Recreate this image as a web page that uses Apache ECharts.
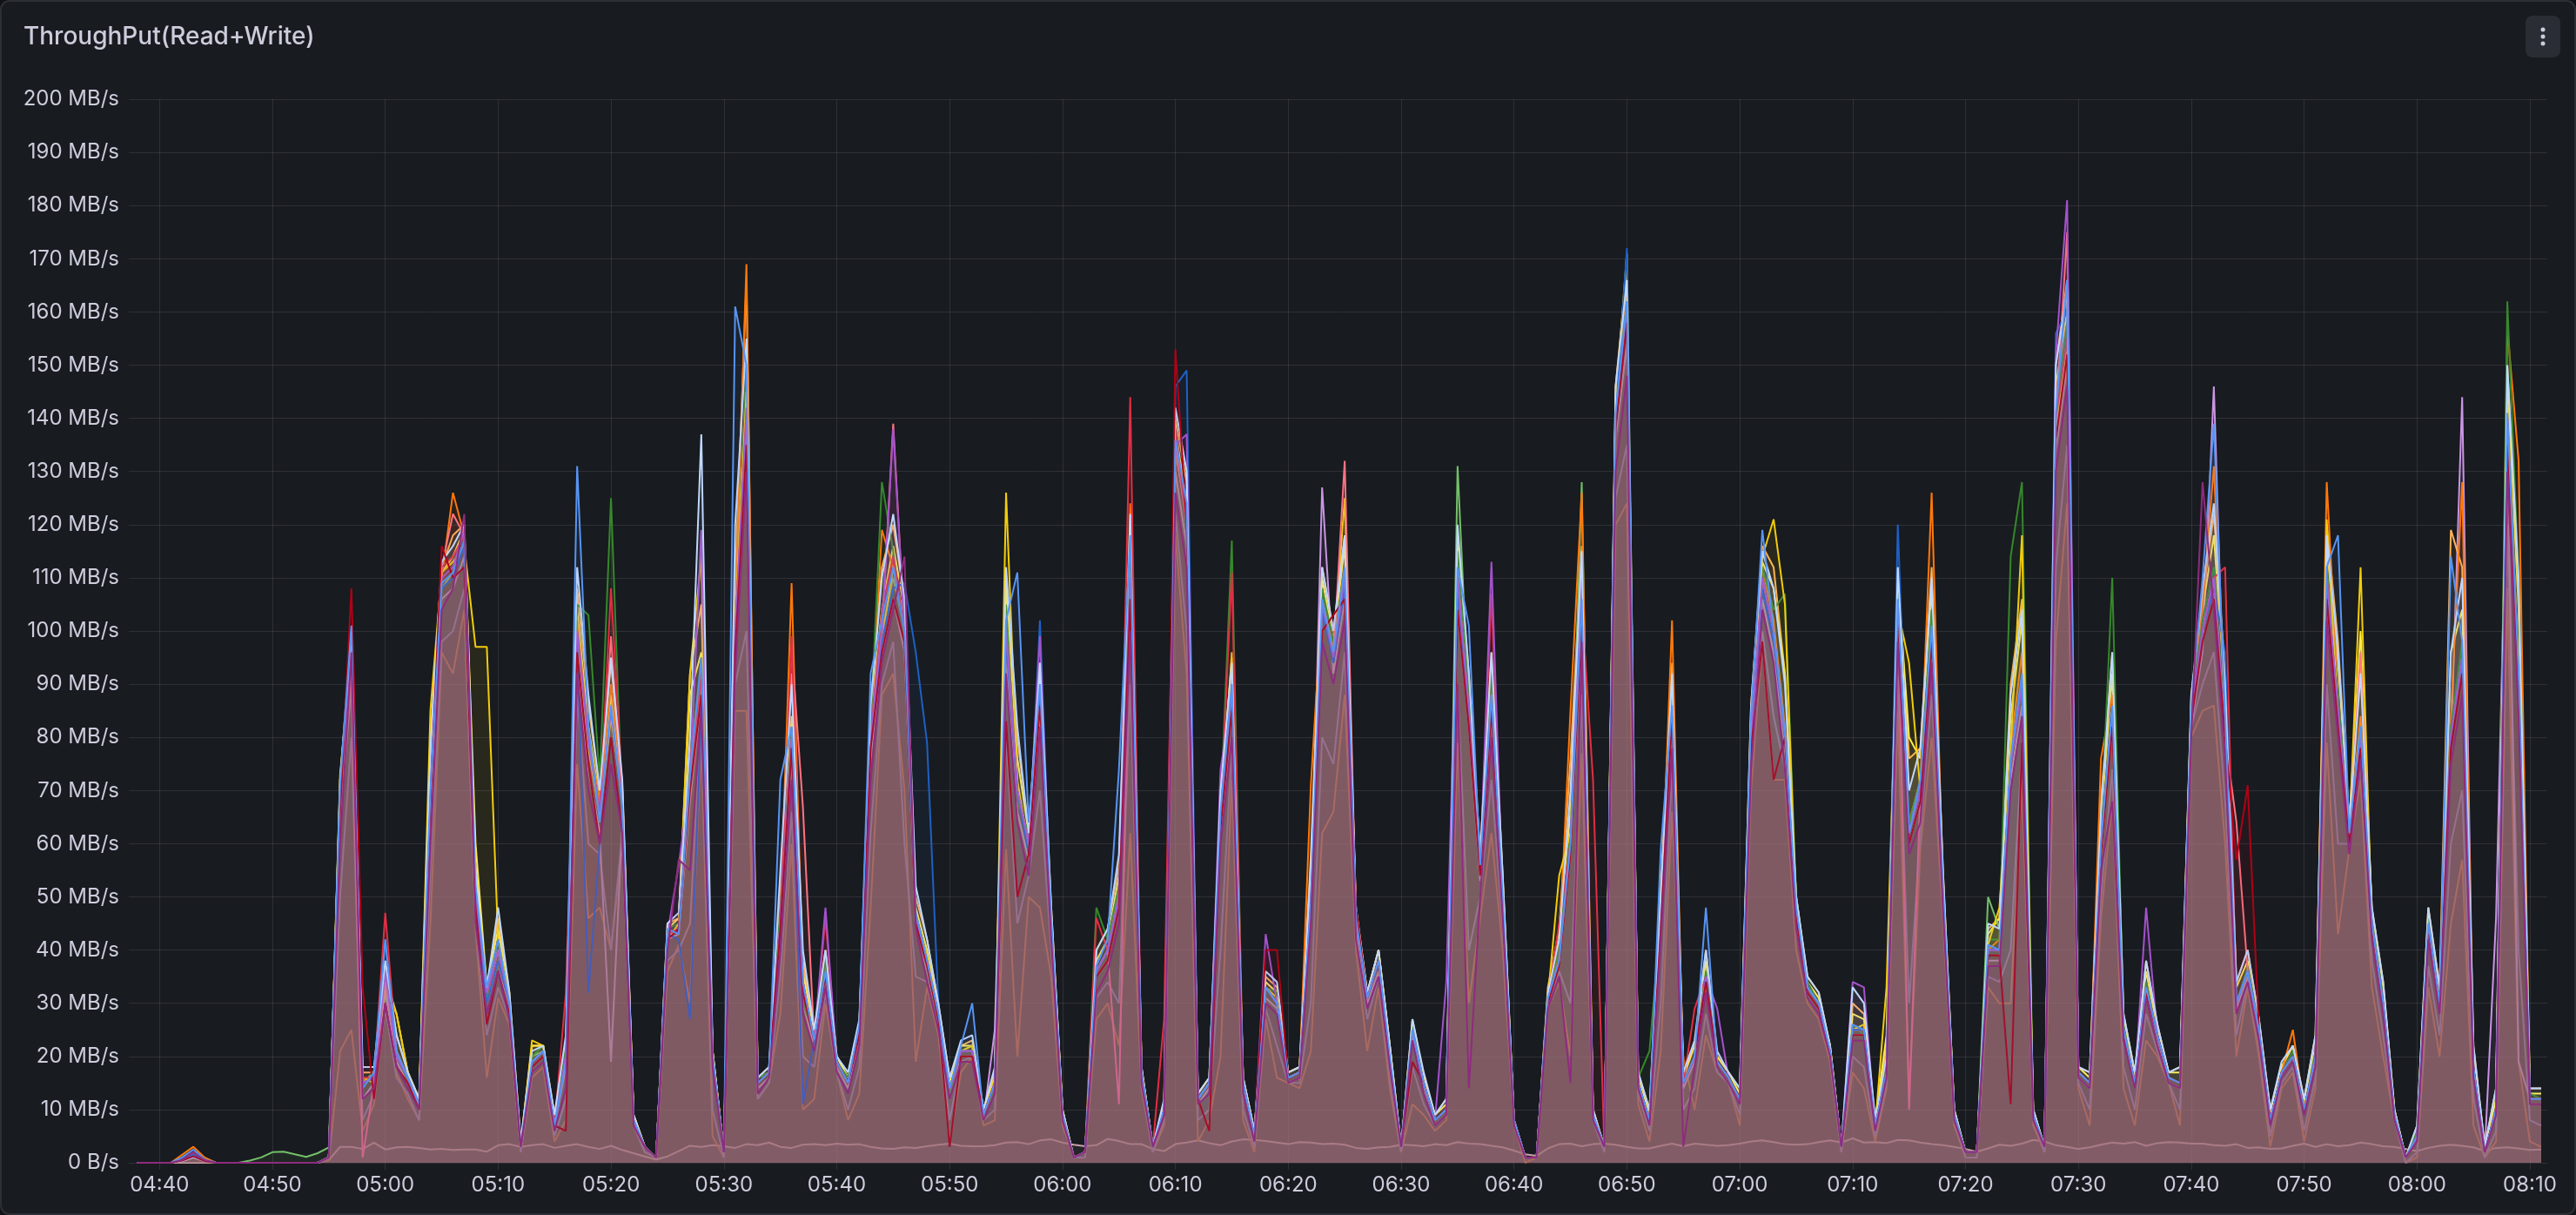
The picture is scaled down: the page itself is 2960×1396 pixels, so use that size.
<!DOCTYPE html>
<html>
<head>
<meta charset="utf-8">
<script src="https://cdn.jsdelivr.net/npm/echarts@6/dist/echarts.min.js"></script>
<style>
html, body { margin: 0; padding: 0; background: #111217; }
#main { width: 2960px; height: 1396px; }
</style>
</head>
<body>
<div id="main"></div>
<script>
// one sample per minute, first sample at 04:38
var startMinute = 4 * 60 + 38;

// MB/s per volume
var volGreen = [
  0,0,0,0,0.5,1.8,0.4,0,0,0,
  0,0,0,0,0,0,0,1,68,92,
  14,17,36,21,15,10,70,108,110,117,
  52,30,42,31,3,20,22,8,22,105,
  103,72,125,66,8,3,1,44,45,74,
  95,19,2,98,150,16,17,48,82,30,
  24,38,19,16,25,82,128,115,98,44,
  37,27,13,21,22,9,14,105,68,62,
  90,46,9,1,2,48,42,52,118,17,
  3,9,138,118,12,15,66,117,15,4,
  33,32,16,17,52,108,98,112,47,31,
  38,20,3,26,15,8,10,115,88,56,
  92,52,8,1,1,32,40,62,108,9,
  3,142,162,16,21,46,88,15,20,36,
  19,16,12,82,112,104,107,50,34,30,
  21,3,26,24,7,18,108,64,72,104,
  53,9,2,2,42,42,114,128,9,3,
  142,158,17,15,62,110,26,15,34,24,
  16,15,86,102,112,82,30,37,26,8,
  17,21,10,21,112,88,62,82,46,31,
  9,1,6,46,31,82,98,18,2,9,
  162,110,13,12
];
var volYellow = [
  0,0,0,0,0.3,1,0.3,0,0,0,
  0,0,0,0,0,0,0,1,73,96,
  16,15,33,28,17,12,85,111,113,116,
  97,97,42,31,3,23,22,7,20,98,
  78,65,84,69,9,3,1,42,45,92,
  114,21,2,102,145,15,17,44,78,34,
  23,36,19,15,25,78,98,112,102,46,
  39,28,14,21,22,9,16,126,72,59,
  86,45,9,1,2,36,40,50,108,17,
  3,10,134,122,12,15,64,96,15,5,
  33,31,16,17,50,104,96,125,46,31,
  38,20,3,25,15,8,10,108,84,55,
  86,50,8,1,1,31,54,62,104,9,
  3,143,171,15,8,46,84,15,20,35,
  19,16,12,82,114,121,105,48,33,30,
  21,3,25,26,7,33,104,94,70,98,
  52,9,2,2,41,48,78,118,9,3,
  138,154,17,15,58,84,25,15,33,24,
  16,15,84,100,108,80,30,36,25,8,
  17,20,10,20,121,84,62,112,45,30,
  9,1,5,45,31,80,95,18,2,10,
  142,92,12,12
];
var volBlue = [
  0,0,0,0,1,2.5,0.6,0,0,0,
  0,0,0,0,0,0,0,1,71,101,
  14,17,42,21,16,11,70,109,111,117,
  52,33,42,30,3,19,21,7,19,131,
  82,64,86,67,8,3,1,44,43,73,
  95,20,2,161,150,15,17,72,82,34,
  23,36,19,15,26,92,102,112,100,47,
  38,28,14,22,30,9,15,102,111,64,
  90,46,9,1,2,37,42,74,118,17,
  3,10,136,124,12,15,66,90,15,5,
  33,30,16,17,49,106,96,112,46,31,
  38,20,3,25,15,8,10,112,101,56,
  88,50,8,1,1,31,38,60,106,9,
  3,141,162,15,8,59,86,15,20,48,
  19,16,12,84,119,100,81,48,33,30,
  21,3,26,25,7,17,106,62,72,101,
  52,9,2,2,41,40,76,92,9,3,
  141,166,17,15,60,86,25,15,33,24,
  16,15,86,110,139,84,30,36,25,8,
  17,20,10,20,112,118,62,82,45,30,
  9,1,5,45,30,114,98,18,2,10,
  141,92,12,12
];
var volOrange = [
  0,0,0,0,1.5,3,1,0,0,0,
  0,0,0,0,0,0,0,1,70,96,
  15,16,35,20,16,11,72,110,126,118,
  50,32,40,30,3,19,21,7,21,102,
  80,68,90,70,8,3,1,43,44,76,
  93,20,2,104,169,15,17,46,109,34,
  23,37,19,15,25,82,119,112,102,46,
  38,28,14,21,21,9,15,104,70,60,
  90,45,9,1,2,36,40,52,124,17,
  3,10,136,122,12,15,66,92,15,5,
  33,30,16,17,71,106,97,112,46,31,
  38,20,3,25,15,8,10,112,88,58,
  90,50,8,1,1,31,40,85,126,10,
  3,142,164,15,8,46,102,15,20,35,
  19,16,12,82,112,102,82,48,33,30,
  21,3,25,25,7,17,106,64,72,126,
  52,9,2,2,40,42,78,96,9,3,
  145,158,17,15,76,88,25,15,33,24,
  16,15,86,104,131,84,30,36,25,8,
  17,25,10,20,128,88,62,84,45,30,
  9,1,5,45,30,84,128,18,2,10,
  157,132,12,12
];
var volRed = [
  0,0,0,0,0.5,1.5,0.4,0,0,0,
  0,0,0,0,0,0,0,1,68,98,
  16,16,47,21,16,11,70,112,114,118,
  50,32,38,30,3,19,21,7,32,100,
  80,66,108,70,8,3,1,43,44,72,
  92,20,2,100,142,15,17,45,99,34,
  23,46,19,15,25,80,104,114,100,46,
  38,28,14,21,21,9,15,100,70,60,
  88,45,9,1,2,46,40,50,144,17,
  3,27,138,120,12,15,65,111,15,5,
  33,30,16,17,50,105,95,110,46,31,
  38,20,3,25,15,8,10,110,85,55,
  107,50,8,1,1,31,45,60,105,72,
  3,140,160,15,8,45,85,15,29,35,
  19,16,12,80,110,100,80,48,33,30,
  21,3,25,25,7,17,105,62,70,100,
  52,9,2,2,40,40,75,90,9,3,
  140,155,17,15,60,85,25,15,33,24,
  16,15,85,100,110,112,30,36,25,8,
  17,20,10,20,110,85,62,80,45,30,
  9,1,5,45,30,80,95,18,2,10,
  140,90,12,12
];
var volDarkBlue = [
  0,0,0,0,0.5,1.5,0.5,0,0,0,
  0,0,0,0,0,0,0,1,70,100,
  15,16,42,20,16,11,70,108,110,116,
  48,30,38,30,3,19,21,7,20,98,
  32,60,80,62,8,3,1,43,42,27,
  85,20,2,98,135,15,17,44,78,11,
  23,36,19,15,25,78,98,108,109,96,
  79,30,14,21,21,9,15,98,70,58,
  102,45,9,1,2,36,40,50,108,17,
  3,10,146,149,12,15,64,86,15,5,
  33,30,16,17,48,104,94,108,46,31,
  38,20,3,25,15,8,10,108,84,55,
  86,50,8,1,1,31,38,60,104,9,
  3,140,172,15,8,45,85,15,20,35,
  19,16,12,80,108,98,80,48,33,30,
  21,3,25,25,7,17,120,62,70,98,
  52,9,2,2,40,40,75,90,9,3,
  156,160,17,15,60,85,25,15,33,24,
  16,15,85,100,108,96,30,36,25,8,
  17,20,10,20,108,85,62,80,45,30,
  9,1,5,45,30,80,95,18,2,10,
  140,90,12,12
];
var volPurple = [
  0,0,0,0,0.5,2,0.5,0,0,0,
  0,0,0,0,0,0,0,1,69,97,
  15,16,36,20,16,11,70,110,112,119,
  50,32,40,30,3,19,21,7,20,100,
  79,66,85,68,8,3,1,43,56,72,
  119,20,2,100,140,15,17,45,80,33,
  23,48,19,15,25,80,100,138,100,46,
  38,28,14,21,21,9,15,100,70,60,
  99,45,9,1,2,36,40,50,110,17,
  3,10,135,137,12,15,74,88,15,5,
  43,30,16,17,50,105,95,110,46,31,
  38,20,3,25,15,8,34,110,85,55,
  113,50,8,1,1,31,38,60,114,9,
  3,140,160,15,8,45,85,15,20,35,
  29,16,12,80,110,100,80,48,33,30,
  21,3,34,33,7,17,105,62,70,100,
  52,9,2,2,40,40,75,90,9,3,
  152,181,17,15,60,85,25,15,48,24,
  16,15,85,100,110,80,30,36,25,8,
  17,20,10,20,110,85,62,80,45,30,
  9,1,5,45,30,80,95,18,2,10,
  140,90,12,12
];
var volDarkRed = [
  0,0,0,0,0.4,1.2,0.3,0,0,0,
  0,0,0,0,0,0,0,1,66,108,
  33,12,30,18,15,10,68,116,110,112,
  48,26,36,28,3,18,20,7,6,96,
  75,60,80,62,8,3,1,42,44,70,
  88,20,2,96,135,15,17,44,78,32,
  23,35,19,15,24,78,96,106,98,45,
  37,27,3,20,20,9,15,83,50,58,
  86,44,9,1,2,35,38,48,106,17,
  3,9,153,120,12,6,63,85,15,5,
  40,40,16,17,48,100,103,106,48,31,
  38,19,3,19,15,8,10,104,82,54,
  85,48,8,1,1,30,37,58,102,9,
  3,138,158,15,8,44,84,15,20,34,
  19,16,12,78,98,72,80,46,32,29,
  21,3,24,24,7,17,102,60,68,98,
  50,9,2,2,39,39,11,79,9,3,
  136,152,17,15,58,82,24,15,32,24,
  16,15,83,98,106,80,57,71,25,8,
  17,20,10,20,106,82,60,78,44,30,
  9,1,5,44,30,78,92,18,2,10,
  136,88,12,12
];
var volPink = [
  0,0,0,0,0.4,1.5,0.4,0,0,0,
  0,0,0,0,0,0,0,1,66,92,
  1,15,34,20,16,11,70,112,122,118,
  50,32,40,30,3,19,21,7,20,100,
  80,66,99,68,8,3,1,43,44,72,
  92,20,2,100,140,15,17,45,97,67,
  23,36,19,15,25,80,100,139,100,46,
  38,28,14,21,21,9,15,100,70,60,
  88,45,9,1,2,36,40,11,110,17,
  3,10,135,120,12,15,65,88,15,5,
  33,30,16,17,50,105,95,132,46,31,
  38,20,3,25,15,8,10,110,85,55,
  88,50,8,1,1,31,38,60,105,9,
  3,140,160,15,8,45,85,15,20,35,
  19,16,12,80,110,100,80,48,33,30,
  21,3,25,25,7,17,105,10,70,100,
  52,9,2,2,40,40,75,90,9,3,
  140,175,17,15,60,85,25,15,33,24,
  16,15,85,100,110,80,64,36,25,8,
  17,20,10,20,110,85,62,96,45,30,
  9,1,5,45,30,80,95,18,2,10,
  140,90,12,12
];
var volLightBlue = [
  0,0,0,0,0.3,1,0.3,0,0,0,
  0,0,0,0,0,0,0,1,72,100,
  18,18,38,24,17,12,78,113,116,120,
  55,33,48,32,4,21,22,9,24,112,
  88,70,95,72,9,3,1,45,47,80,
  137,21,2,120,155,16,18,55,90,40,
  25,40,20,17,27,86,110,122,106,52,
  42,30,16,23,24,10,18,112,82,62,
  94,48,10,1,2,40,44,58,122,18,
  3,12,142,130,13,16,70,94,16,6,
  36,34,17,18,56,112,100,118,48,32,
  40,22,3,27,17,9,12,120,92,58,
  96,54,8,1,1,32,42,70,115,10,
  3,146,166,17,10,50,92,17,23,40,
  21,17,14,86,115,108,90,50,35,32,
  22,3,33,30,8,20,112,70,78,110,
  55,10,2,2,45,44,88,104,10,3,
  150,164,18,17,66,96,28,17,38,26,
  17,18,88,108,124,90,34,40,27,10,
  19,22,12,24,118,96,64,92,48,34,
  10,1,7,48,33,96,110,22,3,14,
  150,110,14,14
];
var volLavender = [
  0,0,0,0,0.3,1,0.3,0,0,0,
  0,0,0,0,0,0,0,1,64,90,
  12,15,32,19,15,10,66,106,108,114,
  46,30,38,28,3,18,20,7,18,94,
  74,62,19,64,8,3,1,42,43,68,
  88,19,2,94,132,14,16,42,76,30,
  22,35,18,14,24,76,96,106,96,44,
  36,27,13,20,20,8,25,96,66,57,
  84,43,9,1,2,35,38,48,104,16,
  3,9,130,116,11,14,62,84,14,5,
  31,29,15,16,48,127,92,106,44,30,
  36,19,3,24,14,8,10,104,82,53,
  84,48,8,1,1,30,37,58,100,9,
  3,136,154,14,8,43,82,14,19,34,
  18,15,11,78,106,96,78,46,32,29,
  20,3,24,24,7,16,100,60,68,96,
  50,9,2,2,38,38,72,86,9,3,
  134,150,16,14,58,82,24,14,32,23,
  15,14,82,96,146,78,29,35,24,8,
  16,19,10,19,106,82,60,78,44,29,
  9,1,5,44,29,78,144,17,2,46,
  136,19,12,12
];
var volLightGreen = [
  0,0,0,0,0.3,1,0.3,0,0,0,
  0.4,1,2,2.1,1.6,1.1,1.8,2.9,68,94,
  15,17,33,21,16,11,72,108,111,117,
  50,32,40,31,3,20,21,7,20,100,
  80,66,84,68,8,3,1,43,44,72,
  92,20,2,100,140,15,17,45,80,33,
  23,36,19,15,25,80,100,110,100,46,
  38,28,14,21,21,9,15,100,70,60,
  88,45,9,1,2,36,40,50,110,17,
  3,10,135,120,12,15,65,88,15,5,
  33,30,16,17,50,105,95,110,46,31,
  38,20,3,25,15,8,10,131,85,55,
  88,50,8,1,1,31,38,60,128,9,
  3,140,160,15,8,45,85,15,20,35,
  19,16,12,80,110,100,80,48,33,30,
  21,3,25,25,7,17,105,62,70,100,
  52,9,2,2,50,44,75,90,9,3,
  140,155,17,15,60,85,25,15,33,24,
  16,15,85,100,110,80,30,36,25,8,
  17,20,10,20,110,85,62,80,45,30,
  9,1,5,45,30,80,95,18,2,10,
  140,90,12,12
];
var volPeach = [
  0,0,0,0,0.3,1,0.3,0,0,0,
  0,0,0,0,0,0,0,1,72,98,
  17,17,38,24,17,12,80,112,118,120,
  56,33,46,32,4,22,22,9,22,108,
  86,70,94,71,9,3,1,45,46,92,
  105,21,2,110,166,16,18,52,92,38,
  24,40,20,16,26,86,112,120,106,50,
  42,30,16,22,23,10,17,110,80,62,
  94,48,10,1,2,40,44,56,120,18,
  3,11,140,128,13,16,68,94,16,6,
  35,33,17,18,58,112,100,118,48,32,
  40,22,3,27,16,9,12,118,92,58,
  96,54,8,1,1,33,44,76,116,10,
  3,146,168,17,10,52,94,17,22,40,
  20,17,14,86,116,112,92,50,35,32,
  22,3,30,28,8,22,112,76,78,112,
  55,10,2,2,44,46,90,106,10,3,
  150,166,18,17,68,96,28,17,38,26,
  17,18,88,106,122,92,34,40,27,10,
  18,22,12,24,120,98,64,94,48,34,
  10,1,7,48,33,119,112,22,3,14,
  150,108,14,14
];
var volPlum = [
  0,0,0,0,0.5,2,0.5,0,0,0,
  0,0,0,0,0,0,0,1,60,96,
  12,14,30,18,14,10,60,104,108,122,
  45,28,36,27,3,17,19,6,14,92,
  70,60,75,62,7,3,1,40,57,55,
  86,18,2,92,130,13,16,40,72,28,
  21,33,17,13,22,72,94,104,114,44,
  34,25,12,19,19,8,13,92,64,54,
  82,42,8,1,2,32,36,45,100,15,
  3,9,126,112,11,13,60,80,13,4,
  30,28,15,16,45,98,90,102,42,29,
  35,18,3,23,13,7,9,90,14,50,
  80,46,7,1,1,29,35,15,98,8,
  3,130,148,14,7,42,78,3,18,32,
  18,15,11,74,104,94,74,44,31,28,
  20,3,23,23,6,16,98,58,64,94,
  48,8,2,2,37,37,70,84,8,3,
  130,146,16,14,55,68,23,14,31,22,
  15,14,80,128,104,76,28,34,23,7,
  16,19,9,18,102,80,58,76,42,28,
  8,1,4,42,28,75,88,16,2,9,
  130,84,11,11
];
var volBrown = [
  0,0,0,0,0.3,1,0.3,0,0,0,
  0,0,0,0,0,0,0,0.5,21,25,
  6,11,30,17,12,8,45,96,92,104,
  44,16,31,26,2,16,18,4,8,75,
  46,48,40,60,7,2,1,36,41,30,
  79,5,1,85,85,12,15,28,60,10,
  12,30,17,8,13,48,88,92,70,19,
  33,24,4,17,20,7,8,59,20,50,
  48,35,7,1,1,27,30,22,62,14,
  2,7,118,92,4,8,20,72,8,2,
  27,16,15,14,21,62,66,88,40,21,
  33,14,2,11,9,6,8,79,30,46,
  62,40,7,0,1,29,34,20,77,8,
  2,120,124,11,4,21,66,20,10,24,
  17,15,7,70,98,72,72,40,30,27,
  19,2,17,14,4,14,85,12,59,80,
  46,7,1,1,33,30,30,72,7,2,
  98,124,14,7,46,68,14,7,23,20,
  15,7,80,85,86,60,20,33,20,3,
  14,17,4,14,79,43,59,72,33,20,
  8,0,1,33,20,45,57,7,1,4,
  108,19,4,3
];
var volSlate = [
  0,0,0,0,0.3,1,0.3,0,0,0,
  0,0,0,0,0,0,0,1,50,80,
  8,13,29,16,13,8,55,98,100,108,
  45,24,33,27,2,17,19,5,12,88,
  60,58,40,62,7,2,1,38,40,45,
  84,10,1,90,100,12,15,35,66,20,
  18,32,17,10,18,62,90,98,60,35,
  34,25,8,19,20,8,10,80,45,54,
  70,40,8,1,1,31,34,30,90,15,
  2,8,122,100,8,10,40,78,10,3,
  29,22,15,15,30,80,75,96,43,27,
  35,16,2,18,11,7,9,90,40,50,
  72,44,7,1,1,30,36,30,88,8,
  2,125,135,13,6,30,74,10,14,28,
  17,15,9,74,100,84,74,44,31,28,
  20,2,20,18,5,15,92,30,62,88,
  48,8,1,1,35,34,40,78,8,2,
  112,135,15,10,50,74,18,10,28,21,
  15,10,82,90,96,68,24,34,22,5,
  15,18,6,16,90,60,60,75,38,24,
  8,0,2,37,24,60,70,12,1,6,
  120,40,8,7
];
var volLightYellow = [
  0,0,0,0,0.3,1,0.3,0,0,0,
  0,0,0,0,0,0,0,1,71,97,
  15,17,35,28,17,12,76,111,114,119,
  60,33,44,31,3,22,22,8,22,104,
  82,68,88,70,9,3,1,44,46,88,
  96,21,2,104,148,16,17,47,84,36,
  24,38,20,16,26,84,104,116,104,48,
  40,29,15,22,22,10,16,108,76,62,
  92,47,10,1,2,38,42,54,116,18,
  3,11,138,124,13,16,68,95,16,6,
  34,32,17,18,54,110,98,116,47,32,
  40,22,3,26,16,9,11,116,90,57,
  92,53,8,1,1,32,44,66,110,10,
  3,144,166,16,9,50,90,16,22,38,
  20,17,13,84,113,108,92,50,34,31,
  22,3,28,27,8,24,110,80,76,108,
  54,10,2,2,43,46,84,102,10,3,
  146,160,18,16,64,92,27,16,36,25,
  17,17,87,104,118,88,33,38,26,9,
  18,22,11,22,116,94,64,100,47,33,
  10,1,6,47,32,96,104,20,3,12,
  148,104,13,13
];
var volIdle = [
  0,0,0,0,0,0,0,0,0,0,
  0,0,0,0,0,0,0,0.5,3,3,
  2.6,3.8,2.5,2.9,3,2.8,2.5,2.6,2.4,2.5,
  2.5,2.1,3.3,3.5,3,3.3,3.5,2.8,3.2,3.5,
  3,2.6,3.2,2.4,1.8,1.2,0.6,1.2,2.2,3.2,
  3,3.3,3.1,2.8,3.5,3.3,3.8,3,2.8,3.4,
  3.5,3.3,3.6,3.4,3.5,3,2.7,2.6,2.9,2.8,
  3.1,3.4,3.6,3.2,3.1,3.1,3.3,3.8,3.9,3.5,
  4.2,4.4,3.8,3.4,3.1,3.3,4.5,4.1,3.5,3.5,
  2.6,2.2,3.5,3.8,4.2,3.7,3.3,4,4.4,4.3,
  4.1,3.8,3.5,3.9,3.8,3.5,3.6,3.4,2.8,2.6,
  2.9,3,3.4,3.3,3.1,3.5,3.3,3.9,3.6,3.5,
  3.2,2.9,2.3,1.6,1.3,2.7,3.5,3.6,3.1,3.5,
  3.6,3.4,3,2.7,2.7,3.2,3.6,3.1,3.6,3.4,
  3.2,3.3,3.6,4,4.2,3.9,3.5,3.4,3.5,3.9,
  4.2,3.8,4.6,3.8,3.9,3.7,4.3,4.2,3.8,3.5,
  3.3,3,2.6,2.1,2.7,3.4,3.2,3.6,4.3,4,
  3.3,3,2.6,2.9,3.4,3.8,3.6,3.9,3.2,3.7,
  3.9,3.8,3.6,3.6,3.3,3.2,3.5,2.8,2.9,2.6,
  2.7,3.2,3.6,3,3.5,3.1,3.3,3.8,3.5,3.1,
  3,2.6,2.2,2.8,3.2,3.4,3.2,2.9,2.2,2.8,
  2.9,2.7,2.4,2.5
];

// drawing order: first listed is painted first (bottom)
var volumes = [
  { name: 'vol-r', color: '#C9A0A8', values: volIdle },
  { name: 'vol-o', color: '#C4561D', values: volBrown },
  { name: 'vol-p', color: '#806EB7', values: volSlate },
  { name: 'vol-k', color: '#CA95E5', values: volLavender },
  { name: 'vol-m', color: '#FFB357', values: volPeach },
  { name: 'vol-q', color: '#FFEE52', values: volLightYellow },
  { name: 'vol-l', color: '#73BF69', values: volLightGreen },
  { name: 'vol-d', color: '#FF780A', values: volOrange },
  { name: 'vol-a', color: '#37872D', values: volGreen },
  { name: 'vol-b', color: '#F2CC0C', values: volYellow },
  { name: 'vol-i', color: '#FF7383', values: volPink },
  { name: 'vol-e', color: '#E02F44', values: volRed },
  { name: 'vol-f', color: '#1F60C4', values: volDarkBlue },
  { name: 'vol-g', color: '#A352CC', values: volPurple },
  { name: 'vol-j', color: '#C0D8FF', values: volLightBlue },
  { name: 'vol-h', color: '#AD0317', values: volDarkRed },
  { name: 'vol-c', color: '#5794F2', values: volBlue },
  { name: 'vol-n', color: '#8E2C7E', values: volPlum }
];

function hhmm(v) {
  var m = Math.round(v);
  var h = Math.floor(m / 60), mm = m % 60;
  return (h < 10 ? '0' : '') + h + ':' + (mm < 10 ? '0' : '') + mm;
}

var textColor = '#ccccdc';
var gridColor = 'rgba(204,204,220,0.12)';

var chart = echarts.init(document.getElementById('main'));

// each series gets its own z so its fill covers the lines painted before it
var series = volumes.map(function (v, i) {
  return {
    name: v.name,
    type: 'line',
    z: 10 + i,
    showSymbol: false,
    symbol: 'none',
    animation: false,
    color: v.color,
    lineStyle: { width: 2, color: v.color },
    areaStyle: { color: v.color, opacity: 0.08 },
    data: v.values.map(function (y, k) { return [startMinute + k, y]; })
  };
});

chart.setOption({
  backgroundColor: '#111217',
  animation: false,
  graphic: [
    {
      type: 'rect', z: -100,
      shape: { x: 1, y: 1, width: 2958, height: 1394, r: 10 },
      style: { fill: '#181b1f', stroke: '#2c2f35', lineWidth: 2 }
    },
    {
      type: 'text', left: 27, top: 29,
      style: { text: 'ThroughPut(Read+Write)', fill: textColor, font: '500 28px Inter' }
    },
    {
      type: 'rect',
      shape: { x: 2902, y: 18, width: 40, height: 48, r: 8 },
      style: { fill: '#2a2d33' }
    },
    { type: 'circle', shape: { cx: 2922, cy: 34, r: 2.5 }, style: { fill: textColor } },
    { type: 'circle', shape: { cx: 2922, cy: 42, r: 2.5 }, style: { fill: textColor } },
    { type: 'circle', shape: { cx: 2922, cy: 50, r: 2.5 }, style: { fill: textColor } }
  ],
  grid: { left: 148, right: 33, top: 114, bottom: 60 },
  xAxis: {
    type: 'value',
    min: 4 * 60 + 37.28,
    max: 4 * 60 + 251.54,
    splitNumber: 21,
    axisLine: { show: false },
    axisTick: { show: true, length: 8, lineStyle: { color: gridColor, width: 1 } },
    axisLabel: {
      color: textColor, fontFamily: 'Inter', fontSize: 24, margin: 14,
      showMinLabel: false, showMaxLabel: false,
      formatter: function (v) { return hhmm(v); }
    },
    splitLine: { show: true, showMinLine: false, showMaxLine: false, lineStyle: { color: gridColor, width: 1 } }
  },
  yAxis: {
    type: 'value',
    min: 0, max: 200, interval: 10,
    axisLine: { show: false },
    axisTick: { show: false },
    axisLabel: {
      color: textColor, fontFamily: 'Inter', fontSize: 24, margin: 11,
      formatter: function (v) { return v === 0 ? '0 B/s' : v + ' MB/s'; }
    },
    splitLine: { lineStyle: { color: gridColor, width: 1 } }
  },
  series: series
});
</script>
</body>
</html>
